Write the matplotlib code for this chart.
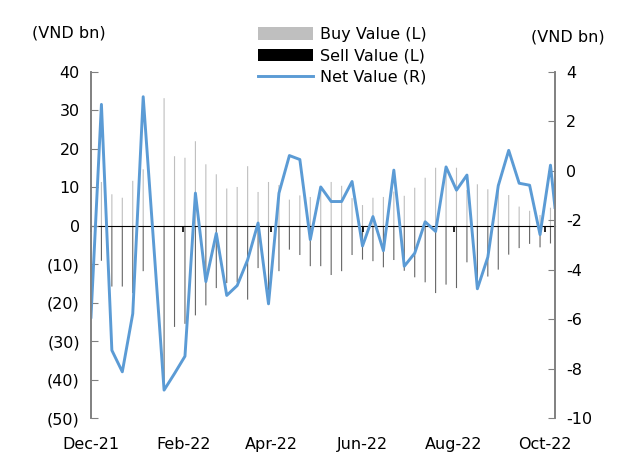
import matplotlib
matplotlib.use("Agg")
import matplotlib.pyplot as plt
import matplotlib.dates as mdates
import numpy as np
import pandas as pd

plt.rcParams["font.family"] = ["DejaVu Sans"]

# weekly dates (one week missing), last point is a partial week
dates = list(pd.date_range("2021-12-10", "2022-10-14", freq="7D"))
dates = [d for d in dates if d != pd.Timestamp("2022-01-21")]
dates.append(pd.Timestamp("2022-10-17"))

buy_value = [7.6, 11.4, 8.2, 7.3, 11.7, 14.7, 33.2, 18.1, 17.7, 22.0,
             16.0, 13.4, 9.7, 10.1, 15.5, 8.8, 11.4, 10.6, 6.8, 7.9,
             7.5, 10.0, 11.4, 10.4, 7.2, 5.4, 7.3, 7.5, 8.9, 7.8,
             9.9, 12.5, 15.1, 15.3, 15.1, 9.3, 10.8, 9.5, 10.8, 8.0,
             5.0, 3.9, 2.8, 4.7, 1.5]
sell_value = [-13.5, -9.1, -15.8, -15.8, -17.5, -11.8, -42.0, -26.3, -25.5, -23.3,
              -20.7, -16.2, -14.9, -14.7, -19.2, -11.0, -16.8, -11.8, -6.2, -7.6,
              -10.5, -10.5, -12.8, -11.8, -7.6, -8.8, -9.2, -10.8, -8.9, -11.7,
              -13.4, -14.7, -17.5, -15.3, -16.2, -9.5, -15.6, -13.2, -11.4, -7.5,
              -5.8, -4.7, -5.6, -4.6, -3.0]
net_value = [-5.92, 2.69, -7.26, -8.13, -5.78, 3.0, -8.87, -8.2, -7.5, -0.9,
             -4.48, -2.53, -5.04, -4.64, -3.6, -2.11, -5.38, -0.9, 0.62, 0.46,
             -2.78, -0.65, -1.24, -1.24, -0.43, -3.04, -1.85, -3.23, 0.03, -3.86,
             -3.33, -2.06, -2.45, 0.16, -0.78, -0.17, -4.77, -3.49, -0.6, 0.83,
             -0.5, -0.58, -2.58, 0.23, -1.48]

tick_dates = pd.to_datetime(["2021-12-10", "2022-02-10", "2022-04-10",
                             "2022-06-10", "2022-08-10", "2022-10-10"])

left_lim = (-50, 40)
right_lim = (-10, 4)
fs = 11.5

fig = plt.figure(figsize=(6.27, 4.57), dpi=100)
ax = fig.add_axes([0.1451, 0.0853, 0.7400, 0.7571])
ax2 = ax.twinx()

bar_w = pd.Timedelta(hours=18)
b1 = ax.bar(dates, buy_value, width=bar_w, color="#bfbfbf", linewidth=0,
            snap=False, label="Buy Value (L)")
b2 = ax.bar(dates, sell_value, width=bar_w, color="#000000", linewidth=0,
            snap=False, alpha=0.6, label="Sell Value (L)")
l1, = ax2.plot(dates, net_value, color="#5b9bd5", linewidth=2.1, label="Net Value (R)")

ax.set_ylim(*left_lim)
ax.set_yticks(np.arange(-50, 41, 10))
ax.set_yticklabels([f"({abs(v)})" if v < 0 else f"{v}" for v in range(-50, 41, 10)])
ax2.set_ylim(*right_lim)
ax2.set_yticks(np.arange(-10, 5, 2))
ax2.set_yticklabels([f"{v}" for v in range(-10, 5, 2)])

ax.set_xlim(dates[0], dates[-1])
ax.set_xticks(tick_dates)
ax.xaxis.set_major_formatter(mdates.DateFormatter("%b-%y"))
ax.tick_params(axis="x", length=0, pad=14, labelsize=fs)
ax.tick_params(axis="y", direction="in", length=5, color="#808080", labelsize=fs, pad=8)
ax2.tick_params(axis="y", direction="in", length=5, color="#808080", labelsize=fs, pad=8)

for a in (ax, ax2):
    a.spines["top"].set_visible(False)
    a.spines["bottom"].set_visible(False)
    a.spines["left"].set_color("#808080")
    a.spines["right"].set_color("#808080")
    a.spines["left"].set_linewidth(1.2)
    a.spines["right"].set_linewidth(1.2)
ax2.tick_params(axis="x", length=0)

# zero line with small tick marks on it
zero_frac = (0 - left_lim[0]) / (left_lim[1] - left_lim[0])
sec = ax.secondary_xaxis(zero_frac)
sec.set_xticks(mdates.date2num(tick_dates))
sec.set_xticklabels([])
sec.tick_params(direction="in", length=4, width=1.2, color="black")
sec.spines["bottom"].set_color("black")
sec.spines["bottom"].set_linewidth(1.2)

fig.text(0.11, 0.928, "(VND bn)", ha="center", va="center", fontsize=fs)
fig.text(0.905, 0.918, "(VND bn)", ha="center", va="center", fontsize=fs)

leg = fig.legend(handles=[b1, b2, l1], loc="upper left", bbox_to_anchor=(0.402, 0.955),
                 frameon=False, fontsize=fs, handlelength=3.4, handleheight=0.8,
                 labelspacing=0.4, handletextpad=0.45, borderaxespad=0)
for h in leg.legend_handles[:2]:
    h.set_alpha(1)

plt.savefig("out.png", dpi=100)
plt.close()
